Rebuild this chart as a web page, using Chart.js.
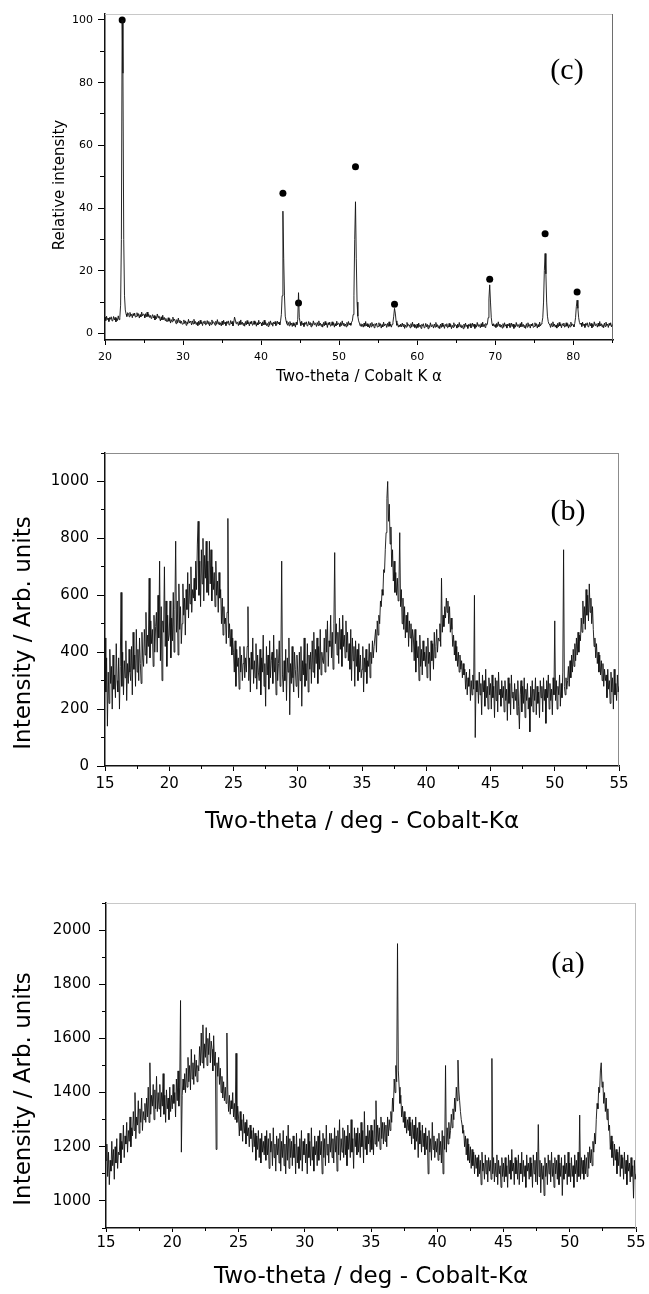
<!DOCTYPE html>
<html>
<head>
<meta charset="utf-8">
<script src="https://cdn.jsdelivr.net/npm/chart.js@4.4.0/dist/chart.umd.min.js"></script>
<style>
  html, body { margin: 0; padding: 0; background: #fff; }
  #page { position: relative; width: 649px; height: 1294px; overflow: hidden; }
  canvas { position: absolute; left: 0; }
</style>
</head>
<body>
<div id="page">
  <canvas id="chartC" width="649" height="400" style="top:0px"></canvas>
  <canvas id="chartB" width="649" height="460" style="top:400px"></canvas>
  <canvas id="chartA" width="649" height="434" style="top:860px"></canvas>
</div>
<script>
// ---- panel (c): relative intensity, 20-85 deg, 0.1 deg steps ----
const cStart = 20;
const cStep = 0.1;
const cIntensity = [
  5.2, 4.1, 5.5, 4.4, 4.9, 3.8, 5.1, 4.5, 5.3, 4.0,   // 20
  4.2, 5.4, 4.3, 5.1, 3.7, 4.8, 4.1, 5.6, 4.4, 5.0,   // 21
  9, 30, 100, 83, 30, 12, 7.5, 6.2, 5.4, 6.6,         // 22
  6.4, 5.3, 6.7, 5.6, 6.1, 5.0, 6.3, 5.7, 6.5, 5.2,   // 23
  5.4, 6.6, 5.5, 6.3, 4.9, 6.0, 5.3, 6.8, 5.6, 6.2,   // 24
  6.0, 5.0, 6.3, 5.3, 6.8, 5.4, 6.1, 5.1, 5.8, 4.8,   // 25
  5.4, 6.0, 4.9, 5.7, 4.3, 5.4, 4.7, 6.2, 5.0, 5.6,   // 26
  4.9, 4.0, 5.3, 4.3, 5.8, 4.4, 5.1, 4.1, 4.8, 3.8,   // 27
  3.8, 5.0, 3.9, 4.7, 3.3, 4.4, 3.7, 5.2, 4.0, 4.6,   // 28
  4.0, 3.1, 4.4, 3.4, 4.9, 3.5, 4.2, 3.2, 3.9, 2.9,   // 29
  3.1, 4.3, 3.2, 4.0, 2.6, 3.7, 3.0, 4.5, 3.3, 3.9,   // 30
  3.6, 2.7, 4.0, 3.0, 4.5, 3.1, 3.8, 2.8, 3.5, 2.5,   // 31
  3.9, 2.8, 4.2, 3.1, 3.6, 2.5, 3.8, 3.2, 4.0, 2.7,   // 32
  2.9, 4.1, 3.0, 3.8, 2.4, 3.5, 2.8, 4.3, 3.1, 3.7,   // 33
  3.5, 2.6, 3.9, 2.9, 4.4, 3.0, 3.7, 2.7, 3.4, 2.4,   // 34
  3.9, 2.8, 4.2, 3.1, 3.6, 2.5, 3.8, 3.2, 4.0, 2.7,   // 35
  2.9, 4.1, 3.0, 3.8, 2.4, 3.5, 5.2, 4.3, 3.1, 3.7,   // 36
  3.4, 2.5, 3.8, 2.8, 4.3, 2.9, 3.6, 2.6, 3.3, 2.3,   // 37
  3.8, 2.7, 4.1, 3.0, 3.5, 2.4, 3.7, 3.1, 3.9, 2.6,   // 38
  2.8, 4.0, 2.9, 3.7, 2.3, 3.4, 2.7, 4.2, 3.0, 3.6,   // 39
  3.3, 2.4, 3.7, 2.7, 4.2, 2.8, 3.5, 2.5, 3.2, 2.2,   // 40
  3.7, 2.6, 4.0, 2.9, 3.4, 2.3, 3.6, 3.0, 3.8, 2.5,   // 41
  2.8, 3.9, 3.0, 3.6, 2.7, 4.0, 6.0, 12, 39, 24,      // 42
  12, 5.5, 4.0, 3.2, 2.6, 3.5, 2.4, 3.8, 2.7, 3.3,    // 43
  2.2, 3.4, 2.5, 3.1, 2.0, 3.6, 2.8, 4.5, 13, 5.0,    // 44
  3.6, 2.5, 3.9, 2.8, 3.3, 2.2, 3.5, 2.9, 3.7, 2.4,   // 45
  2.6, 3.8, 2.7, 3.5, 2.1, 3.2, 2.5, 4.0, 2.8, 3.4,   // 46
  3.1, 2.2, 3.5, 2.5, 4.0, 2.6, 3.3, 2.3, 3.0, 2.0,   // 47
  3.5, 2.4, 3.8, 2.7, 3.2, 1.9, 3.4, 2.8, 3.6, 2.3,   // 48
  2.5, 3.7, 2.6, 3.4, 2.0, 3.1, 2.4, 3.9, 2.7, 3.3,   // 49
  3.1, 2.2, 3.5, 2.5, 4.0, 2.6, 3.3, 2.3, 3.0, 2.1,   // 50
  3.5, 2.4, 3.8, 2.7, 3.3, 2.6, 3.6, 4.0, 6.0, 12,    // 51
  30, 42, 24, 10, 5.5, 4.0, 3.3, 2.4, 3.1, 2.2,       // 52
  2.9, 2.0, 3.3, 2.3, 3.8, 2.4, 3.1, 2.1, 2.8, 1.8,   // 53
  3.2, 2.1, 3.5, 2.4, 2.9, 1.8, 3.1, 2.5, 3.3, 2.0,   // 54
  2.2, 3.4, 2.3, 3.1, 1.7, 2.8, 2.1, 3.6, 2.4, 3.0,   // 55
  2.8, 1.9, 3.2, 2.2, 3.7, 2.3, 3.0, 2.0, 2.9, 3.5,   // 56
  5.5, 8.0, 6.5, 4.0, 2.6, 3.1, 2.0, 2.7, 2.2, 3.0,   // 57
  2.1, 3.3, 2.2, 3.0, 1.6, 2.7, 2.0, 3.5, 2.3, 2.9,   // 58
  2.7, 1.8, 3.1, 2.1, 3.6, 2.2, 2.9, 1.9, 2.6, 1.6,   // 59
  3.0, 1.9, 3.3, 2.2, 2.7, 1.6, 2.9, 2.3, 3.1, 1.8,   // 60
  2.0, 3.2, 2.1, 2.9, 1.5, 2.6, 1.9, 3.4, 2.2, 2.8,   // 61
  2.6, 1.7, 3.0, 2.0, 3.5, 2.1, 2.8, 1.8, 2.5, 1.5,   // 62
  3.0, 1.9, 3.3, 2.2, 2.7, 1.6, 2.9, 2.3, 3.1, 1.8,   // 63
  2.0, 3.2, 2.1, 2.9, 1.5, 2.6, 1.9, 3.4, 2.2, 2.8,   // 64
  2.6, 1.7, 3.0, 2.0, 3.5, 2.1, 2.8, 1.8, 2.5, 1.5,   // 65
  3.0, 1.9, 3.3, 2.2, 2.7, 1.6, 2.9, 2.3, 3.1, 1.8,   // 66
  2.1, 3.3, 2.2, 3.0, 1.6, 2.7, 2.0, 3.5, 2.3, 2.9,   // 67
  2.7, 1.8, 3.1, 2.1, 3.6, 2.2, 2.9, 1.9, 3.2, 2.6,   // 68
  3.0, 5.0, 11, 15.5, 10, 5.0, 3.0, 2.4, 3.1, 2.2,    // 69
  2.8, 1.9, 3.2, 2.2, 3.7, 2.3, 3.0, 2.0, 2.7, 1.7,   // 70
  3.1, 2.0, 3.4, 2.3, 2.8, 1.7, 3.0, 2.4, 3.2, 1.9,   // 71
  2.1, 3.3, 2.2, 3.0, 1.6, 2.7, 2.0, 3.5, 2.3, 2.9,   // 72
  2.7, 1.8, 3.1, 2.1, 3.6, 2.2, 2.9, 1.9, 2.6, 1.6,   // 73
  3.1, 2.0, 3.4, 2.3, 2.8, 1.7, 3.0, 2.4, 3.2, 1.9,   // 74
  2.2, 3.4, 2.3, 3.1, 1.7, 2.8, 2.1, 3.6, 2.4, 3.0,   // 75
  3.5, 5.0, 10, 20, 25.5, 19, 10, 5.5, 3.8, 3.0,      // 76
  2.8, 1.9, 3.2, 2.2, 3.7, 2.3, 3.0, 2.0, 2.7, 1.7,   // 77
  3.2, 2.1, 3.5, 2.4, 2.9, 1.8, 3.1, 2.5, 3.3, 2.0,   // 78
  2.2, 3.4, 2.3, 3.1, 1.7, 2.8, 2.1, 3.6, 2.4, 3.0,   // 79
  2.8, 2.1, 3.2, 5.0, 8.5, 10.6, 8.0, 5.0, 3.5, 2.9,  // 80
  3.3, 2.2, 3.6, 2.5, 3.0, 1.9, 3.2, 2.6, 3.4, 2.1,   // 81
  2.3, 3.5, 2.4, 3.2, 1.8, 2.9, 2.2, 3.7, 2.5, 3.1,   // 82
  2.9, 2.0, 3.3, 2.3, 3.8, 2.4, 3.1, 2.1, 2.8, 1.8,   // 83
  3.3, 2.2, 3.6, 2.5, 3.0, 1.9, 3.2, 2.6, 3.4, 2.1,   // 84
  2.8                                                 // 85
];
const cPeakTheta = [22.2, 42.8, 44.8, 52.1, 57.1, 69.3, 76.4, 80.5];
const cPeakValue = [100, 44.7, 9.7, 53.2, 9.3, 17.3, 31.8, 13.2];
const cTicksXMajor = [20, 30, 40, 50, 60, 70, 80];
const cTicksXMinor = [25, 35, 45, 55, 65, 75, 85];
const cTicksYMajor = [0, 20, 40, 60, 80, 100];
const cTicksYMinor = [10, 30, 50, 70, 90];

// ---- panel (b): 15-55 deg, 0.0625 deg steps ----
const bStart = 15;
const bStep = 0.0625;
const bIntensity = [
  450, 260, 380, 140, 330, 220, 410, 290, 350, 200, 390, 270, 320, 240, 430, 300,   // 15
  260, 380, 200, 350, 610, 280, 400, 250, 370, 310, 440, 230, 360, 290, 410, 330,   // 16
  300, 420, 250, 470, 340, 390, 280, 480, 330, 410, 300, 450, 360, 290, 470, 380,   // 17
  350, 480, 390, 540, 360, 460, 420, 660, 380, 510, 430, 480, 350, 530, 400, 490,   // 18
  540, 400, 600, 450, 720, 370, 560, 300, 510, 470, 700, 420, 580, 350, 530, 440,   // 19
  460, 580, 380, 520, 440, 610, 400, 550, 790, 470, 580, 390, 640, 480, 560, 430,   // 20
  500, 640, 530, 590, 460, 620, 550, 680, 520, 640, 570, 700, 540, 620, 590, 660,   // 21
  580, 720, 620, 780, 860, 600, 720, 560, 760, 640, 800, 580, 740, 660, 790, 610,   // 22
  720, 600, 790, 640, 760, 580, 700, 620, 680, 560, 720, 600, 650, 540, 680, 590,   // 23
  620, 500, 590, 460, 560, 500, 520, 430, 540, 870, 450, 500, 420, 480, 390, 450,   // 24
  400, 330, 440, 280, 410, 350, 380, 270, 420, 330, 390, 300, 360, 420, 310, 380,   // 25
  330, 420, 560, 300, 380, 260, 400, 340, 450, 290, 370, 310, 430, 270, 390, 330,   // 26
  300, 410, 250, 380, 330, 460, 280, 360, 210, 420, 320, 390, 270, 440, 310, 370,   // 27
  400, 290, 460, 330, 380, 250, 410, 300, 360, 440, 280, 380, 720, 320, 260, 370,   // 28
  300, 410, 230, 380, 330, 450, 180, 360, 290, 420, 310, 260, 400, 340, 280, 390,   // 29
  330, 240, 400, 300, 420, 210, 370, 320, 450, 280, 360, 300, 430, 260, 390, 340,   // 30
  400, 290, 440, 330, 470, 310, 410, 360, 450, 290, 420, 340, 480, 320, 400, 370,   // 31
  360, 450, 330, 480, 400, 510, 350, 440, 420, 530, 380, 470, 340, 500, 750, 430,   // 32
  500, 390, 470, 360, 520, 410, 480, 350, 530, 420, 460, 380, 510, 400, 470, 370,   // 33
  430, 340, 480, 300, 450, 370, 420, 280, 440, 350, 410, 300, 430, 330, 390, 310,   // 34
  340, 420, 260, 380, 330, 410, 290, 370, 350, 430, 310, 400, 360, 440, 380, 420,   // 35
  420, 480, 400, 510, 460, 530, 500, 580, 560, 620, 600, 690, 680, 760, 820, 940,   // 36
  1000, 860, 920, 780, 840, 700, 760, 650, 720, 610, 680, 600, 660, 580, 640, 820,  // 37
  560, 620, 500, 590, 480, 560, 450, 530, 470, 540, 420, 510, 450, 500, 400, 480,   // 38
  450, 370, 480, 330, 440, 380, 420, 300, 460, 350, 410, 320, 440, 370, 400, 350,   // 39
  420, 310, 450, 360, 400, 300, 440, 370, 430, 340, 470, 380, 420, 480, 400, 450,   // 40
  440, 500, 420, 660, 470, 530, 490, 560, 520, 590, 540, 580, 500, 560, 470, 520,   // 41
  480, 420, 460, 390, 440, 370, 420, 350, 400, 330, 390, 340, 370, 310, 360, 320,   // 42
  340, 270, 330, 250, 310, 280, 340, 230, 300, 250, 320, 270, 600, 100, 300, 260,   // 43
  300, 220, 330, 250, 290, 180, 320, 260, 300, 210, 340, 240, 280, 200, 310, 250,   // 44
  290, 200, 320, 240, 280, 170, 310, 230, 300, 190, 330, 250, 270, 210, 300, 240,   // 45
  280, 190, 300, 230, 270, 160, 310, 220, 290, 180, 320, 240, 260, 200, 290, 230,   // 46
  270, 180, 300, 210, 130, 250, 300, 190, 280, 220, 310, 170, 270, 230, 290, 200,   // 47
  240, 120, 280, 210, 300, 190, 270, 230, 310, 180, 280, 220, 260, 170, 300, 240,   // 48
  280, 190, 310, 230, 270, 150, 300, 240, 320, 200, 290, 230, 270, 180, 310, 250,   // 49
  510, 230, 300, 200, 280, 250, 320, 210, 290, 240, 330, 760, 280, 250, 310, 270,   // 50
  300, 350, 280, 370, 310, 390, 330, 410, 350, 430, 370, 450, 390, 470, 400, 460,   // 51
  440, 520, 470, 580, 500, 560, 480, 620, 530, 600, 510, 640, 540, 590, 500, 560,   // 52
  480, 420, 450, 380, 430, 360, 400, 330, 390, 320, 370, 300, 360, 280, 340, 300,   // 53
  320, 240, 340, 270, 300, 220, 330, 260, 310, 200, 340, 250, 290, 230, 320, 260,   // 54
  280                                                                               // 55
];
const bTicksXMajor = [15, 20, 25, 30, 35, 40, 45, 50, 55];
const bTicksXMinor = [17.5, 22.5, 27.5, 32.5, 37.5, 42.5, 47.5, 52.5];
const bTicksYMajor = [0, 200, 400, 600, 800, 1000];
const bTicksYMinor = [100, 300, 500, 700, 900, 1100];

// ---- panel (a): 15-55 deg, 0.0625 deg steps ----
const aStart = 15;
const aStep = 0.0625;
const aIntensity = [
  1150, 1210, 1090, 1180, 1060, 1150, 1110, 1220, 1130, 1190, 1080, 1200, 1140, 1230, 1120, 1180,   // 15
  1170, 1250, 1140, 1220, 1190, 1280, 1160, 1240, 1210, 1290, 1180, 1260, 1220, 1310, 1200, 1270,   // 16
  1240, 1330, 1260, 1400, 1230, 1310, 1280, 1370, 1250, 1340, 1290, 1380, 1260, 1330, 1300, 1360,   // 17
  1290, 1380, 1310, 1420, 1290, 1510, 1320, 1390, 1350, 1430, 1300, 1410, 1340, 1460, 1330, 1400,   // 18
  1340, 1430, 1310, 1400, 1350, 1470, 1320, 1390, 1290, 1410, 1340, 1380, 1300, 1420, 1330, 1390,   // 19
  1340, 1430, 1360, 1400, 1310, 1450, 1370, 1480, 1350, 1420, 1740, 1180, 1390, 1450, 1410, 1470,   // 20
  1400, 1490, 1420, 1530, 1440, 1500, 1410, 1560, 1450, 1510, 1430, 1540, 1460, 1520, 1440, 1500,   // 21
  1480, 1570, 1500, 1620, 1510, 1650, 1490, 1580, 1530, 1640, 1500, 1600, 1540, 1620, 1510, 1590,   // 22
  1560, 1480, 1610, 1500, 1550, 1190, 1510, 1460, 1530, 1430, 1490, 1400, 1460, 1380, 1440, 1370,   // 23
  1420, 1360, 1620, 1410, 1330, 1390, 1320, 1370, 1340, 1400, 1310, 1360, 1300, 1545, 1290, 1350,   // 24
  1310, 1240, 1330, 1260, 1300, 1220, 1320, 1250, 1290, 1210, 1300, 1240, 1270, 1200, 1280, 1230,   // 25
  1260, 1180, 1270, 1200, 1250, 1150, 1240, 1190, 1260, 1160, 1230, 1140, 1250, 1180, 1220, 1170,   // 26
  1240, 1150, 1260, 1170, 1230, 1120, 1250, 1180, 1220, 1130, 1270, 1160, 1210, 1110, 1240, 1170,   // 27
  1230, 1140, 1250, 1110, 1220, 1160, 1260, 1130, 1210, 1100, 1240, 1150, 1280, 1120, 1230, 1160,   // 28
  1220, 1130, 1240, 1160, 1210, 1100, 1250, 1140, 1200, 1120, 1230, 1150, 1260, 1110, 1220, 1170,   // 29
  1230, 1140, 1210, 1100, 1250, 1160, 1220, 1130, 1270, 1150, 1200, 1110, 1240, 1170, 1220, 1130,   // 30
  1240, 1150, 1260, 1170, 1220, 1100, 1250, 1160, 1230, 1130, 1280, 1170, 1210, 1140, 1250, 1180,   // 31
  1250, 1160, 1230, 1140, 1270, 1180, 1240, 1110, 1260, 1170, 1300, 1150, 1230, 1180, 1270, 1160,   // 32
  1260, 1170, 1240, 1130, 1280, 1190, 1250, 1160, 1300, 1180, 1230, 1120, 1270, 1200, 1250, 1170,   // 33
  1270, 1180, 1250, 1160, 1290, 1200, 1260, 1140, 1330, 1190, 1240, 1170, 1280, 1210, 1260, 1180,   // 34
  1280, 1190, 1260, 1170, 1300, 1210, 1370, 1200, 1280, 1220, 1270, 1190, 1310, 1230, 1290, 1210,   // 35
  1290, 1220, 1280, 1200, 1310, 1240, 1300, 1260, 1330, 1290, 1380, 1330, 1450, 1400, 1500, 1440,   // 36
  1950, 1480, 1420, 1360, 1390, 1310, 1350, 1290, 1330, 1270, 1310, 1250, 1300, 1260, 1310, 1240,   // 37
  1290, 1210, 1300, 1230, 1280, 1190, 1310, 1220, 1270, 1160, 1290, 1210, 1260, 1180, 1280, 1200,   // 38
  1250, 1170, 1270, 1190, 1240, 1100, 1260, 1180, 1230, 1150, 1290, 1190, 1240, 1160, 1220, 1180,   // 39
  1230, 1150, 1250, 1170, 1220, 1140, 1260, 1100, 1240, 1190, 1500, 1180, 1270, 1210, 1290, 1230,   // 40
  1260, 1320, 1270, 1340, 1300, 1380, 1330, 1420, 1370, 1520, 1410, 1370, 1330, 1300, 1280, 1250,   // 41
  1260, 1200, 1240, 1170, 1230, 1150, 1210, 1140, 1200, 1120, 1190, 1130, 1180, 1100, 1170, 1120,   // 42
  1160, 1090, 1170, 1100, 1150, 1060, 1180, 1110, 1140, 1080, 1170, 1100, 1150, 1070, 1160, 1110,   // 43
  1150, 1080, 1526, 1100, 1160, 1070, 1140, 1090, 1170, 1060, 1150, 1100, 1130, 1050, 1160, 1090,   // 44
  1140, 1070, 1160, 1090, 1130, 1050, 1170, 1100, 1150, 1080, 1190, 1110, 1140, 1060, 1160, 1100,   // 45
  1150, 1080, 1170, 1060, 1140, 1100, 1180, 1070, 1150, 1090, 1130, 1050, 1170, 1110, 1140, 1080,   // 46
  1160, 1090, 1140, 1050, 1170, 1100, 1150, 1070, 1180, 1060, 1282, 1090, 1150, 1030, 1140, 1080,   // 47
  1130, 1020, 1160, 1090, 1140, 1060, 1170, 1100, 1150, 1070, 1180, 1090, 1140, 1050, 1160, 1100,   // 48
  1150, 1080, 1170, 1060, 1140, 1090, 1160, 1020, 1130, 1080, 1170, 1100, 1140, 1060, 1180, 1090,   // 49
  1140, 1070, 1160, 1090, 1130, 1050, 1170, 1100, 1150, 1070, 1180, 1090, 1317, 1080, 1160, 1100,   // 50
  1150, 1080, 1170, 1100, 1160, 1090, 1180, 1120, 1200, 1140, 1190, 1130, 1220, 1180, 1250, 1210,   // 51
  1300, 1360, 1340, 1420, 1400, 1480, 1510, 1420, 1440, 1360, 1400, 1330, 1380, 1300, 1340, 1260,   // 52
  1280, 1190, 1240, 1160, 1220, 1130, 1210, 1150, 1190, 1100, 1180, 1130, 1200, 1090, 1170, 1120,   // 53
  1160, 1080, 1180, 1100, 1150, 1060, 1170, 1110, 1140, 1070, 1160, 1090, 1130, 1010, 1150, 1080,   // 54
  1100                                                                                              // 55
];
const aTicksXMajor = [15, 20, 25, 30, 35, 40, 45, 50, 55];
const aTicksXMinor = [17.5, 22.5, 27.5, 32.5, 37.5, 42.5, 47.5, 52.5];
const aTicksYMajor = [1000, 1200, 1400, 1600, 1800, 2000];
const aTicksYMinor = [900, 1100, 1300, 1500, 1700, 1900, 2100];

// scan positions: start + i * step (the diffractometer step)
function toPoints(start, step, values) {
  return values.map((v, i) => ({ x: +(start + i * step).toFixed(4), y: v }));
}

const framePlugin = {
  id: 'frame',
  beforeDatasetsDraw(chart, args, opts) {
    const { ctx, chartArea: a } = chart;
    ctx.save();
    ctx.lineWidth = 1;
    ctx.strokeStyle = opts.top;
    ctx.beginPath();
    ctx.moveTo(a.left, Math.round(a.top) + 0.5);
    ctx.lineTo(a.right, Math.round(a.top) + 0.5);
    ctx.stroke();
    ctx.strokeStyle = opts.right;
    ctx.beginPath();
    ctx.moveTo(Math.round(a.right) - 0.5, a.top);
    ctx.lineTo(Math.round(a.right) - 0.5, a.bottom);
    ctx.stroke();
    ctx.restore();
  }
};

const textPlugin = {
  id: 'panelText',
  afterDraw(chart, args, opts) {
    const ctx = chart.ctx;
    (opts.items || []).forEach(it => {
      ctx.save();
      ctx.translate(it.x, it.y);
      ctx.rotate(it.rotate || 0);
      ctx.font = it.font;
      ctx.fillStyle = '#000';
      ctx.textAlign = 'center';
      ctx.textBaseline = 'middle';
      ctx.fillText(it.text, 0, 0);
      ctx.restore();
    });
  }
};

function setTicks(values) {
  return scale => { scale.ticks = values.map(v => ({ value: v })); };
}

function drawPanel(id, p) {
  const tickFont = { family: 'DejaVu Sans', size: p.tickSize };
  return new Chart(document.getElementById(id), {
    type: 'line',
    data: { datasets: p.datasets },
    options: {
      responsive: false,
      animation: false,
      events: [],
      layout: { padding: { top: p.top, right: p.right, left: 0, bottom: 0 } },
      plugins: {
        legend: { display: false },
        tooltip: { enabled: false },
        frame: p.frame,
        panelText: { items: p.texts }
      },
      scales: {
        x: {
          type: 'linear', position: 'bottom', weight: 1,
          min: p.xMin, max: p.xMax,
          afterBuildTicks: setTicks(p.xMajor),
          afterFit: s => { s.height = p.xHeight; },
          ticks: { autoSkip: false, maxRotation: 0, padding: p.xPad, color: '#000', font: tickFont, callback: v => String(v) },
          grid: { drawOnChartArea: false, tickLength: p.xTick, tickColor: '#000', tickWidth: 1 },
          border: { color: '#111', width: 1.5 },
          title: {
            display: true, text: p.xTitle, color: '#000',
            font: { family: 'DejaVu Sans', size: p.titleSize },
            padding: { top: 0, bottom: p.xTitlePad }
          }
        },
        xMinor: {
          type: 'linear', position: 'bottom', weight: 0,
          min: p.xMin, max: p.xMax,
          afterBuildTicks: setTicks(p.xMinor),
          afterFit: s => { s.height = 0; },
          ticks: { display: false },
          grid: { drawOnChartArea: false, tickLength: p.xMinorTick, tickColor: '#000', tickWidth: 1 },
          border: { display: false }
        },
        y: {
          type: 'linear', position: 'left', weight: 1,
          min: p.yMin, max: p.yMax,
          afterBuildTicks: setTicks(p.yMajor),
          afterFit: s => { s.width = p.yWidth; },
          ticks: { autoSkip: false, padding: p.yPad, color: '#000', font: tickFont, callback: v => String(v) },
          grid: { drawOnChartArea: false, tickLength: p.yTick, tickColor: '#000', tickWidth: 1 },
          border: { color: '#111', width: 1.5 }
        },
        yMinor: {
          type: 'linear', position: 'left', weight: 0,
          min: p.yMin, max: p.yMax,
          afterBuildTicks: setTicks(p.yMinor),
          afterFit: s => { s.width = 0; },
          ticks: { display: false },
          grid: { drawOnChartArea: false, tickLength: p.yMinorTick, tickColor: '#000', tickWidth: 1 },
          border: { display: false }
        }
      }
    },
    plugins: [framePlugin, textPlugin]
  });
}

function traceDataset(points) {
  return {
    data: points, xAxisID: 'x', yAxisID: 'y',
    borderColor: '#111', borderWidth: 0.9, pointRadius: 0, tension: 0, fill: false
  };
}

drawPanel('chartC', {
  datasets: [
    traceDataset(toPoints(cStart, cStep, cIntensity)),
    {
      data: cPeakTheta.map((t, i) => ({ x: t, y: cPeakValue[i] })),
      xAxisID: 'x', yAxisID: 'y', showLine: false,
      pointRadius: 3.5, pointBackgroundColor: '#000', pointBorderWidth: 0
    }
  ],
  top: 14, right: 36, xHeight: 60, yWidth: 105,
  xMin: 20, xMax: 85.1, yMin: -2.1, yMax: 101.9,
  xMajor: cTicksXMajor, xMinor: cTicksXMinor, yMajor: cTicksYMajor, yMinor: cTicksYMinor,
  tickSize: 11, titleSize: 15,
  xTick: 5, xMinorTick: 3, yTick: 7, yMinorTick: 5, xPad: 6, yPad: 5,
  xTitle: 'Two-theta / Cobalt K \u03b1', xTitlePad: 14,
  frame: { top: '#c8c8c8', right: '#6e6e6e' },
  texts: [
    { text: '(c)', x: 567, y: 71, font: '30px "Liberation Serif"' },
    { text: 'Relative intensity', x: 60, y: 185, rotate: -Math.PI / 2, font: '15px "DejaVu Sans"' }
  ]
});

drawPanel('chartB', {
  datasets: [traceDataset(toPoints(bStart, bStep, bIntensity))],
  top: 53, right: 30, xHeight: 94, yWidth: 105,
  xMin: 15, xMax: 55, yMin: 0, yMax: 1100,
  xMajor: bTicksXMajor, xMinor: bTicksXMinor, yMajor: bTicksYMajor, yMinor: bTicksYMinor,
  tickSize: 15, titleSize: 23,
  xTick: 5, xMinorTick: 3, yTick: 8, yMinorTick: 4, xPad: 4, yPad: 8,
  xTitle: 'Two-theta / deg - Cobalt-K\u03b1', xTitlePad: 24,
  frame: { top: '#8c8c8c', right: '#8c8c8c' },
  texts: [
    { text: '(b)', x: 568, y: 112, font: '30px "Liberation Serif"' },
    { text: 'Intensity / Arb. units', x: 24, y: 233, rotate: -Math.PI / 2, font: '23px "DejaVu Sans"' }
  ]
});

drawPanel('chartA', {
  datasets: [traceDataset(toPoints(aStart, aStep, aIntensity))],
  top: 43, right: 13, xHeight: 66, yWidth: 106,
  xMin: 15, xMax: 55, yMin: 900, yMax: 2100,
  xMajor: aTicksXMajor, xMinor: aTicksXMinor, yMajor: aTicksYMajor, yMinor: aTicksYMinor,
  tickSize: 15, titleSize: 23,
  xTick: 4, xMinorTick: 3, yTick: 7, yMinorTick: 4, xPad: 2, yPad: 8,
  xTitle: 'Two-theta / deg - Cobalt-K\u03b1', xTitlePad: 3,
  frame: { top: '#c8c8c8', right: '#bcbcbc' },
  texts: [
    { text: '(a)', x: 568, y: 104, font: '30px "Liberation Serif"' },
    { text: 'Intensity / Arb. units', x: 24, y: 229, rotate: -Math.PI / 2, font: '23px "DejaVu Sans"' }
  ]
});
</script>
</body>
</html>
